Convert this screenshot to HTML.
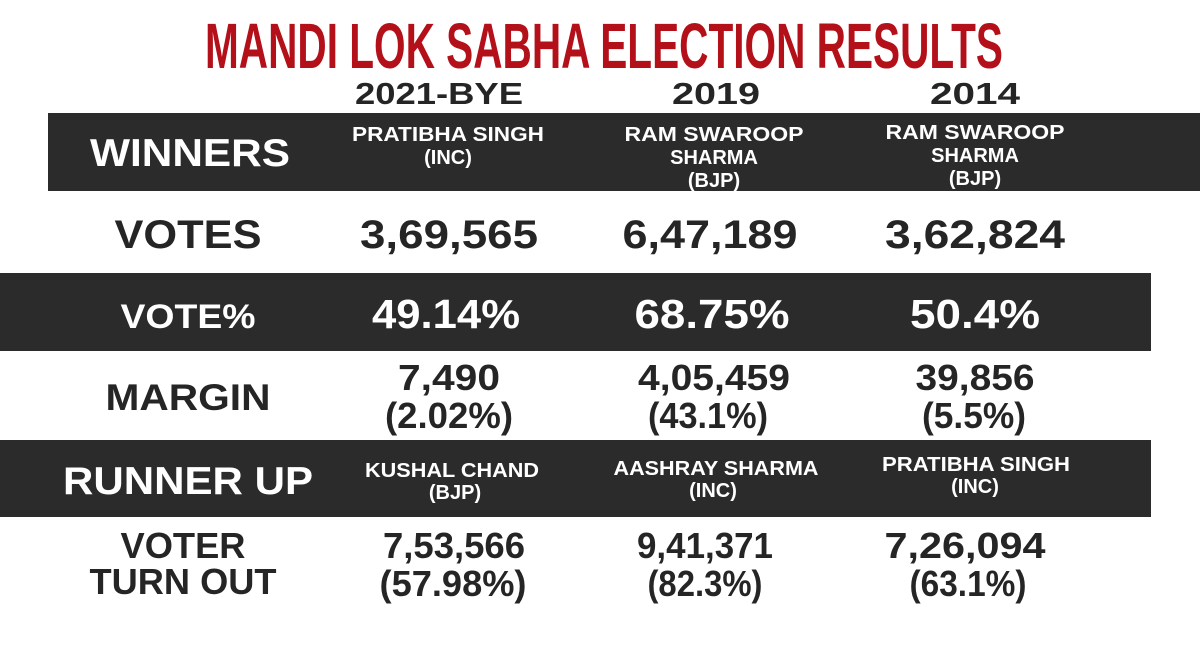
<!DOCTYPE html>
<html><head><meta charset="utf-8"><style>
html,body{margin:0;padding:0;background:#fff;}
svg{display:block;}
text{font-family:"Liberation Sans",sans-serif;font-weight:bold;}
.d{fill:#252525;}
.w{fill:#fff;}
</style></head><body>
<svg width="1200" height="647" viewBox="0 0 1200 647">
<rect x="0" y="0" width="1200" height="647" fill="#fff"/>
<text x="604" y="68" text-anchor="middle" font-size="64" fill="#b3101a" textLength="798" lengthAdjust="spacingAndGlyphs">MANDI LOK SABHA ELECTION RESULTS</text>

<text class="d" x="439" y="104" text-anchor="middle" font-size="31" textLength="168" lengthAdjust="spacingAndGlyphs">2021-BYE</text>
<text class="d" x="716" y="104" text-anchor="middle" font-size="31" textLength="88" lengthAdjust="spacingAndGlyphs">2019</text>
<text class="d" x="975" y="104" text-anchor="middle" font-size="31" textLength="90" lengthAdjust="spacingAndGlyphs">2014</text>

<rect x="48" y="113" width="1152" height="78" fill="#2b2b2b"/>
<text class="w" x="190" y="166" text-anchor="middle" font-size="39" textLength="200" lengthAdjust="spacingAndGlyphs">WINNERS</text>
<g font-size="20" text-anchor="middle" class="w">
<text class="w" x="448" y="141" textLength="192" lengthAdjust="spacingAndGlyphs">PRATIBHA SINGH</text>
<text class="w" x="448" y="164">(INC)</text>
<text class="w" x="714" y="141" textLength="179" lengthAdjust="spacingAndGlyphs">RAM SWAROOP</text>
<text class="w" x="714" y="164">SHARMA</text>
<text class="w" x="714" y="187">(BJP)</text>
<text class="w" x="975" y="139" textLength="179" lengthAdjust="spacingAndGlyphs">RAM SWAROOP</text>
<text class="w" x="975" y="162">SHARMA</text>
<text class="w" x="975" y="185">(BJP)</text>
</g>

<text class="d" x="188" y="248" text-anchor="middle" font-size="40" textLength="147" lengthAdjust="spacingAndGlyphs">VOTES</text>
<text class="d" x="449" y="248" text-anchor="middle" font-size="40" textLength="178" lengthAdjust="spacingAndGlyphs">3,69,565</text>
<text class="d" x="710" y="248" text-anchor="middle" font-size="40" textLength="175" lengthAdjust="spacingAndGlyphs">6,47,189</text>
<text class="d" x="975" y="248" text-anchor="middle" font-size="40" textLength="180" lengthAdjust="spacingAndGlyphs">3,62,824</text>

<rect x="0" y="273" width="1151" height="78" fill="#2b2b2b"/>
<text class="w" x="188" y="328" text-anchor="middle" font-size="34" textLength="135" lengthAdjust="spacingAndGlyphs">VOTE%</text>
<text class="w" x="446" y="328" text-anchor="middle" font-size="41" textLength="148" lengthAdjust="spacingAndGlyphs">49.14%</text>
<text class="w" x="712" y="328" text-anchor="middle" font-size="41" textLength="155" lengthAdjust="spacingAndGlyphs">68.75%</text>
<text class="w" x="975" y="328" text-anchor="middle" font-size="41" textLength="130" lengthAdjust="spacingAndGlyphs">50.4%</text>

<text class="d" x="188" y="410" text-anchor="middle" font-size="37" textLength="165" lengthAdjust="spacingAndGlyphs">MARGIN</text>
<g font-size="36" text-anchor="middle">
<text class="d" x="449" y="390" textLength="102" lengthAdjust="spacingAndGlyphs">7,490</text>
<text class="d" x="449" y="428" textLength="128" lengthAdjust="spacingAndGlyphs">(2.02%)</text>
<text class="d" x="714" y="390" textLength="152" lengthAdjust="spacingAndGlyphs">4,05,459</text>
<text class="d" x="708" y="428" textLength="120" lengthAdjust="spacingAndGlyphs">(43.1%)</text>
<text class="d" x="975" y="390" textLength="119" lengthAdjust="spacingAndGlyphs">39,856</text>
<text class="d" x="974" y="428" textLength="104" lengthAdjust="spacingAndGlyphs">(5.5%)</text>
</g>

<rect x="0" y="440" width="1151" height="77" fill="#2b2b2b"/>
<text class="w" x="188" y="494" text-anchor="middle" font-size="39" textLength="250" lengthAdjust="spacingAndGlyphs">RUNNER UP</text>
<g font-size="20" text-anchor="middle">
<text class="w" x="452" y="477" textLength="174" lengthAdjust="spacingAndGlyphs">KUSHAL CHAND</text>
<text class="w" x="455" y="499">(BJP)</text>
<text class="w" x="716" y="475" textLength="205" lengthAdjust="spacingAndGlyphs">AASHRAY SHARMA</text>
<text class="w" x="713" y="497">(INC)</text>
<text class="w" x="976" y="471" textLength="188" lengthAdjust="spacingAndGlyphs">PRATIBHA SINGH</text>
<text class="w" x="975" y="493">(INC)</text>
</g>

<text class="d" x="183" y="558" text-anchor="middle" font-size="36" textLength="125" lengthAdjust="spacingAndGlyphs">VOTER</text>
<text class="d" x="183" y="594" text-anchor="middle" font-size="36" textLength="187" lengthAdjust="spacingAndGlyphs">TURN OUT</text>
<g font-size="36" text-anchor="middle">
<text class="d" x="454" y="558" textLength="142" lengthAdjust="spacingAndGlyphs">7,53,566</text>
<text class="d" x="453" y="596" textLength="147" lengthAdjust="spacingAndGlyphs">(57.98%)</text>
<text class="d" x="705" y="558" textLength="136" lengthAdjust="spacingAndGlyphs">9,41,371</text>
<text class="d" x="705" y="596" textLength="115" lengthAdjust="spacingAndGlyphs">(82.3%)</text>
<text class="d" x="965" y="558" textLength="161" lengthAdjust="spacingAndGlyphs">7,26,094</text>
<text class="d" x="968" y="596" textLength="117" lengthAdjust="spacingAndGlyphs">(63.1%)</text>
</g>
</svg>
</body></html>
